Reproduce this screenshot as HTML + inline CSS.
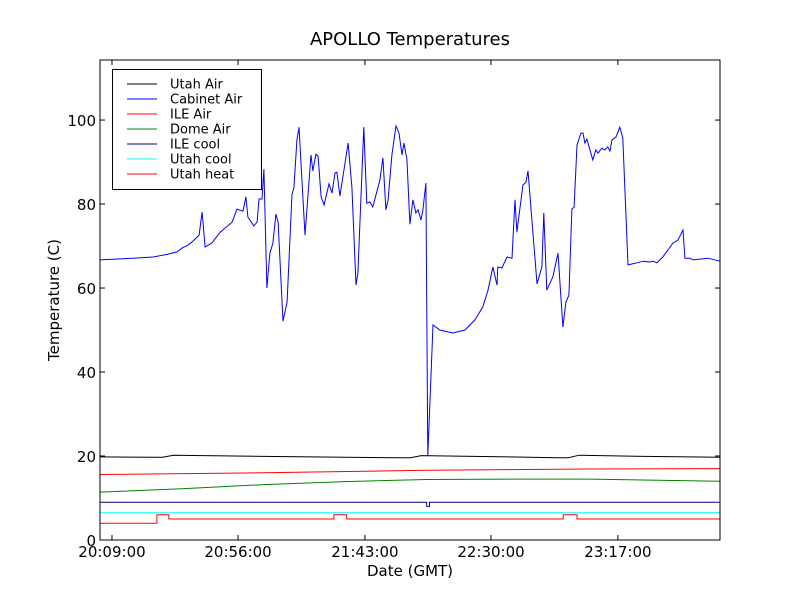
<!DOCTYPE html>
<html><head><meta charset="utf-8"><style>
body{margin:0;background:#fff;}
svg text{font-family:"DejaVu Sans","Liberation Sans",sans-serif;}
</style></head><body>
<svg id="chart" width="800" height="600" xmlns="http://www.w3.org/2000/svg">
<rect width="800" height="600" fill="#fff"/>
<text x="410" y="45" font-size="18" text-anchor="middle">APOLLO Temperatures</text>
<text x="410" y="576" font-size="15" text-anchor="middle">Date (GMT)</text>
<text x="59" y="300" font-size="15" text-anchor="middle" transform="rotate(-90 59 300)">Temperature (C)</text>
<g id="series"></g>
<g id="axes"></g>
<rect x="100" y="60" width="620" height="480" fill="none" stroke="#000" stroke-width="1"/>
<g>
<rect x="112.5" y="69.5" width="149" height="120" fill="#fff" stroke="#000"/>
<g font-size="13">
<line x1="127" y1="84" x2="157" y2="84" stroke="#000"/><text x="170" y="88.5">Utah Air</text>
<line x1="127" y1="99" x2="157" y2="99" stroke="#0000ff"/><text x="170" y="103.5">Cabinet Air</text>
<line x1="127" y1="114" x2="157" y2="114" stroke="#ff0000"/><text x="170" y="118.5">ILE Air</text>
<line x1="127" y1="129" x2="157" y2="129" stroke="#008000"/><text x="170" y="133.5">Dome Air</text>
<line x1="127" y1="144" x2="157" y2="144" stroke="#000080"/><text x="170" y="148.5">ILE cool</text>
<line x1="127" y1="159" x2="157" y2="159" stroke="#00ffff"/><text x="170" y="163.5">Utah cool</text>
<line x1="127" y1="174" x2="157" y2="174" stroke="#ff0000"/><text x="170" y="178.5">Utah heat</text>
</g></g>
</svg>
<script>
const xTickMinutes = [4.4, 50.7, 97.3, 143.6, 190.2];
const xTickLabels = ["20:09:00","20:56:00","21:43:00","22:30:00","23:17:00"];
const yTicks = [0,20,40,60,80,100];
const cabinetTimes = [0,12.1,19.5,24.6,28.3,30.1,32.3,34.2,36.4,37.5,38.6,41.1,44.1,48.5,50.3,52.5,53.6,54.3,56.5,57.7,58.4,59.5,60.2,61.3,62.4,63.5,64.6,65.4,67.2,68.7,70.5,71.2,72.3,73.1,75.3,77.5,78.2,79.3,80.1,81.2,82.3,84.1,85.2,86.3,87.0,88.1,91.1,92.5,94.0,94.7,96.9,98.0,99.1,100.2,102.8,103.9,105.0,105.8,107.2,108.7,109.8,110.9,111.6,112.7,113.8,114.9,116.0,116.8,117.9,118.6,119.7,120.4,122.3,124.8,129.6,134.0,137.7,140.6,142.5,144.3,145.8,146.1,147.6,149.5,151.3,152.4,153.1,155.3,156.4,157.2,160.5,162.3,163.0,164.1,166.3,168.2,170.0,171.1,172.2,173.3,174.1,175.2,176.6,177.4,178.1,178.8,181.0,182.1,182.9,184.3,185.4,186.5,187.3,188.0,189.5,190.9,192.0,193.9,197.2,199.4,201.9,203.1,204.5,206.7,210.4,212.2,214.1,214.8,216.6,217.8,223.3,227.7];
const cabinetTemps = [66.7,67.1,67.4,68,68.6,69.5,70.2,71.2,72.6,78.1,69.8,70.7,73.3,75.7,78.8,78.3,81.7,76.9,74.8,75.7,81.2,81.2,88.3,60,68.3,70.7,77.6,75.7,52.1,56.7,82.4,83.8,95.2,98.3,72.6,91.7,87.9,91.9,91.4,81.7,79.8,84.8,82.6,87.4,87.6,81.9,94.5,84,60.7,63.6,98.3,80.2,80.5,79.3,85.7,91,78.6,81,91.7,98.6,96.9,91.7,94.5,90.7,75.2,81,77.9,78.6,76.2,78.6,85,20,51.2,50,49.3,50,52.4,55.5,59.5,65,60.7,65,64.8,67.4,67.1,81,73.3,84.5,85.2,87.9,61,65,77.9,59.5,62.6,68.3,50.7,56.7,58.3,78.8,79.3,94,96.9,96.9,94.5,95.5,90.5,92.9,92.1,93.3,92.9,93.6,92.6,95.2,96,98.3,95.7,65.5,66,66.4,66.2,66.4,66,67.4,70.7,71.4,73.8,67.1,67.1,66.7,67.1,66.4];
const utahAirTimes = [0,20.9,23,27,60,90,110,114,118,150,168,172,176,200,227.7];
const utahAirTemps = [19.8,19.7,19.7,20.2,19.9,19.7,19.6,19.6,20.1,19.8,19.6,19.6,20.2,19.9,19.7];
const ileAirTimes = [0,60,120,180,227.7];
const ileAirTemps = [15.6,16.0,16.6,16.9,17.0];
const domeAirTimes = [0,30,60,90,120,150,180,227.7];
const domeAirTemps = [11.4,12.2,13.2,13.9,14.4,14.5,14.5,14.0];
const ileCoolTimes = [0,120.0,120.0,121.0,121.0,227.7];
const ileCoolTemps = [9,9,8,8,9,9];
const utahCoolTimes = [0,227.7];
const utahCoolTemps = [6.5,6.5];
const utahHeatTimes = [0,20.9,20.9,25.3,25.3,85.9,85.9,90.6,90.6,170.1,170.1,175.2,175.2,227.7];
const utahHeatTemps = [4,4,6,6,5,5,6,6,5,5,6,6,5,5];

const X0=100,X1=720,Y0=540,Y1=60,XMAX=227.7,YMAX=114.3;
const xs=m=>X0+(m/XMAX)*(X1-X0);
const ys=v=>Y0-(v/YMAX)*(Y0-Y1);
const NS="http://www.w3.org/2000/svg";
const series=document.getElementById('series');
function addLine(t,v,color,name){
  const p=document.createElementNS(NS,'polyline');
  p.setAttribute('points',t.map((m,i)=>xs(m).toFixed(1)+','+ys(v[i]).toFixed(1)).join(' '));
  p.setAttribute('fill','none');p.setAttribute('stroke',color);p.setAttribute('stroke-width','1');
  
  
  series.appendChild(p);
}
addLine(utahAirTimes,utahAirTemps,'#000','utah-air-line');
addLine(cabinetTimes,cabinetTemps,'#0000ff','cabinet-air-line');
addLine(ileAirTimes,ileAirTemps,'#ff0000','ile-air-line');
addLine(domeAirTimes,domeAirTemps,'#008000','dome-air-line');
addLine(ileCoolTimes,ileCoolTemps,'#000080','ile-cool-line');
addLine(utahCoolTimes,utahCoolTemps,'#00ffff','utah-cool-line');
addLine(utahHeatTimes,utahHeatTemps,'#ff0000','utah-heat-line');

const axes=document.getElementById('axes');
function mk(tag,attrs,text){const e=document.createElementNS(NS,tag);for(const k in attrs)e.setAttribute(k,attrs[k]);if(text!==undefined)e.textContent=text;axes.appendChild(e);return e;}
yTicks.forEach(v=>{
  const y=ys(v);
  const t1=mk('line',{x1:X0,y1:y,x2:X0+5,y2:y,stroke:'#000'});
  
  
  const t2=mk('line',{x1:X1,y1:y,x2:X1-5,y2:y,stroke:'#000'});
  
  
  const l=mk('text',{x:X0-4,y:y+6,'font-size':15,'text-anchor':'end'},String(v));
  
  
});
xTickMinutes.forEach((m,i)=>{
  const x=xs(m);
  const t1=mk('line',{x1:x,y1:Y0,x2:x,y2:Y0-5,stroke:'#000'});
  
  
  const t2=mk('line',{x1:x,y1:Y1,x2:x,y2:Y1+5,stroke:'#000'});
  
  
  const l=mk('text',{x:x,y:Y0+17,'font-size':15,'text-anchor':'middle'},xTickLabels[i]);
  
  
});
</script>
</body></html>
